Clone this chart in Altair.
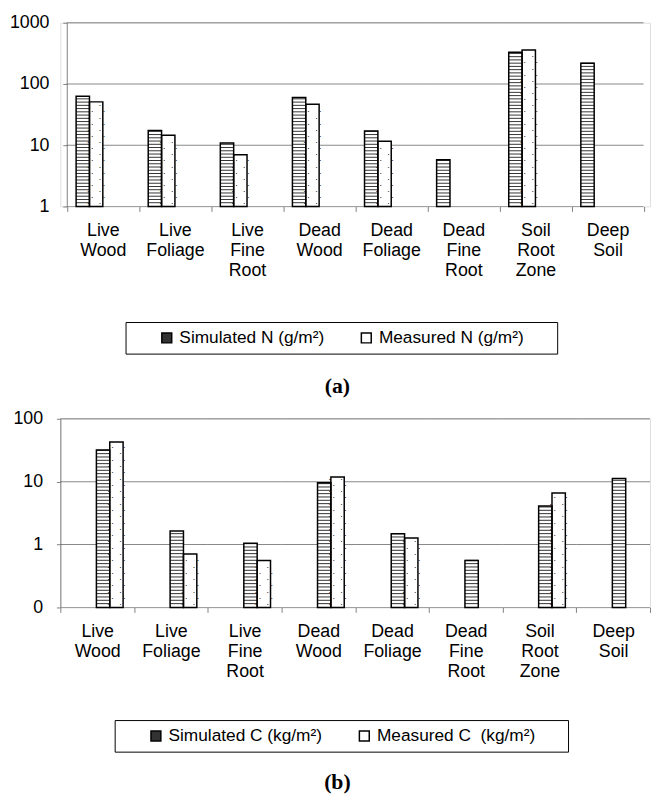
import math
import altair as alt
import pandas as pd

categories = ["Live Wood", "Live Foliage", "Live Fine Root", "Dead Wood",
              "Dead Foliage", "Dead Fine Root", "Soil Root Zone", "Deep Soil"]
sim_N = [63, 17.4, 10.9, 60, 17.0, 5.8, 331, 218]
meas_N = [51, 14.5, 7.0, 46.7, 11.6, None, 360, None]
sim_C = [32.0, 1.64, 1.05, 9.6, 1.49, 0.56, 4.1, 11.2]
meas_C = [42.7, 0.71, 0.56, 11.9, 1.27, None, 6.6, None]
ticks_N = [1, 10, 100, 1000]
ticks_C = [0.1, 1, 10, 100]
labels_N = ["Simulated N (g/m\u00b2)", "Measured N (g/m\u00b2)"]
labels_C = ["Simulated C (kg/m\u00b2)", "Measured C\u00a0 (kg/m\u00b2)"]

FONT = "Liberation Sans"
STEP = 0.053
BLANK = "\u2800"
W = 597


def panel(sim, meas, labels, ticks, H, caption, lx, ly, outer, cap_off):
    rows = []
    for c, s, m in zip(categories, sim, meas):
        rows.append({"cat": c, "series": labels[0], "value": s})
        if m is not None:
            rows.append({"cat": c, "series": labels[1], "value": m})
    df = pd.DataFrame(rows)
    lo, hi = ticks[0], ticks[-1]
    llo = math.log10(lo)

    step = (W - 2 * outer) / len(categories)
    p_out = outer / step

    xaxis = alt.Axis(title=None, labelAngle=0, labelExpr="split(datum.label, ' ')",
                     labelFont=FONT, labelFontSize=18, labelLineHeight=20.5,
                     labelColor="black", labelPadding=10, tickBand="extent",
                     tickSize=5, tickColor="#808080", domain=False,
                     grid=False, labelBaseline="top")
    x = alt.X("cat:N", sort=categories,
              scale=alt.Scale(paddingInner=0, paddingOuter=p_out), axis=xaxis)
    xo = alt.XOffset("series:N", sort=labels,
                     scale=alt.Scale(domain=labels, paddingInner=0, paddingOuter=0.7,
                                     range=[0, step]))
    yscale = alt.Scale(type="log", domain=[lo, hi], nice=False)
    yaxis = alt.Axis(title=None, values=ticks, grid=False, tickSize=4,
                     tickColor="#808080", domainColor="#808080", labelFont=FONT,
                     labelFontSize=18, labelColor="black", labelPadding=14,
                     offset=-outer,
                     labelExpr="datum.value < 0.5 ? '0' : format(datum.value, 'd')")

    grid_df = pd.DataFrame([{"cat": c, "g": t, "axis": t == lo}
                            for t in ticks for c in categories])
    grid = alt.Chart(grid_df).mark_tick(
        orient="horizontal", size=step, thickness=1
    ).encode(x=x, y=alt.Y("g:Q", scale=yscale, axis=yaxis),
             color=alt.condition(alt.datum.axis, alt.value("#808080"), alt.value("#555555")))

    base = alt.Chart(df)
    bars = base.mark_bar(fill="white").encode(
        x=x, xOffset=xo, y=alt.Y("value:Q", scale=yscale, axis=yaxis),
        y2=alt.datum(lo))

    legend = alt.Legend(
        title=BLANK * 2, titleOrient="left", titlePadding=0, titleFont=FONT,
        titleFontSize=17.5, titleOpacity=0, orient="none", legendX=lx, legendY=ly,
        direction="horizontal", padding=7, strokeColor="black", fillColor="white",
        labelFont=FONT, labelFontSize=17.5, labelColor="black", labelLimit=400,
        symbolType="square", symbolSize=100, symbolStrokeColor="black",
        symbolStrokeWidth=1.5, labelOffset=4, columnPadding=33,
        labelExpr="substring(datum.label, 0, 8) === 'Measured' ? datum.label + '"
                  + BLANK * 2 + "' : datum.label")

    stripes = base.transform_filter(
        alt.datum.series == labels[0]
    ).transform_calculate(
        k=f"sequence(1, (log(datum.value)/LN10 - ({llo}))/{STEP})"
    ).transform_flatten(["k"]).transform_calculate(
        ys=f"pow(10, {llo} + datum.k*{STEP})",
        ye=f"pow(10, {llo} + datum.k*{STEP} + 0.016)"
    ).mark_bar().encode(
        x=x, xOffset=xo, y=alt.Y("ys:Q", scale=yscale, axis=yaxis), y2="ye:Q",
        fill=alt.Fill("series:N", scale=alt.Scale(domain=labels, range=["#333333", "#ffffff"]),
                      legend=legend))

    def dots(par, dx):
        return base.transform_filter(
            alt.datum.series == labels[1]
        ).transform_calculate(
            k=f"sequence(0.5, (log(datum.value)/LN10 - ({llo}))/0.1 - 0.2)"
        ).transform_flatten(["k"]).transform_calculate(
            ys=f"pow(10, {llo} + datum.k*0.1)",
            par="floor(datum.k) % 2"
        ).transform_filter(alt.datum.par == par).mark_text(
            text="\u00b7\u2003\u00b7", fontSize=9, dx=dx, color="#222222",
            font=FONT, baseline="middle"
        ).encode(x=x, xOffset=xo, y=alt.Y("ys:Q", scale=yscale, axis=yaxis))

    outline = base.mark_bar(filled=False, stroke="black", strokeWidth=1.5).encode(
        x=x, xOffset=xo, y=alt.Y("value:Q", scale=yscale, axis=yaxis),
        y2=alt.datum(lo))

    return alt.layer(grid, bars, stripes, dots(0, -2), dots(1, 2), outline).properties(
        width=W, height=H,
        title=alt.TitleParams(caption, orient="bottom", anchor="middle",
                              font="Liberation Serif", fontSize=22, dx=-18,
                              fontWeight="bold", color="black", offset=cap_off))


top = panel(sim_N, meas_N, labels_N, ticks_N, 186, "(a)", 66, 303, 6.5, 22)
bottom = panel(sim_C, meas_C, labels_C, ticks_C, 191, "(b)", 55, 305, 0, 20)

chart = alt.vconcat(top, bottom, spacing=12).properties(padding=0).resolve_scale(
    fill="independent").configure_view(stroke=None).configure(background="white")

chart.save("out.html", embed_options={"renderer": "svg", "actions": False})
